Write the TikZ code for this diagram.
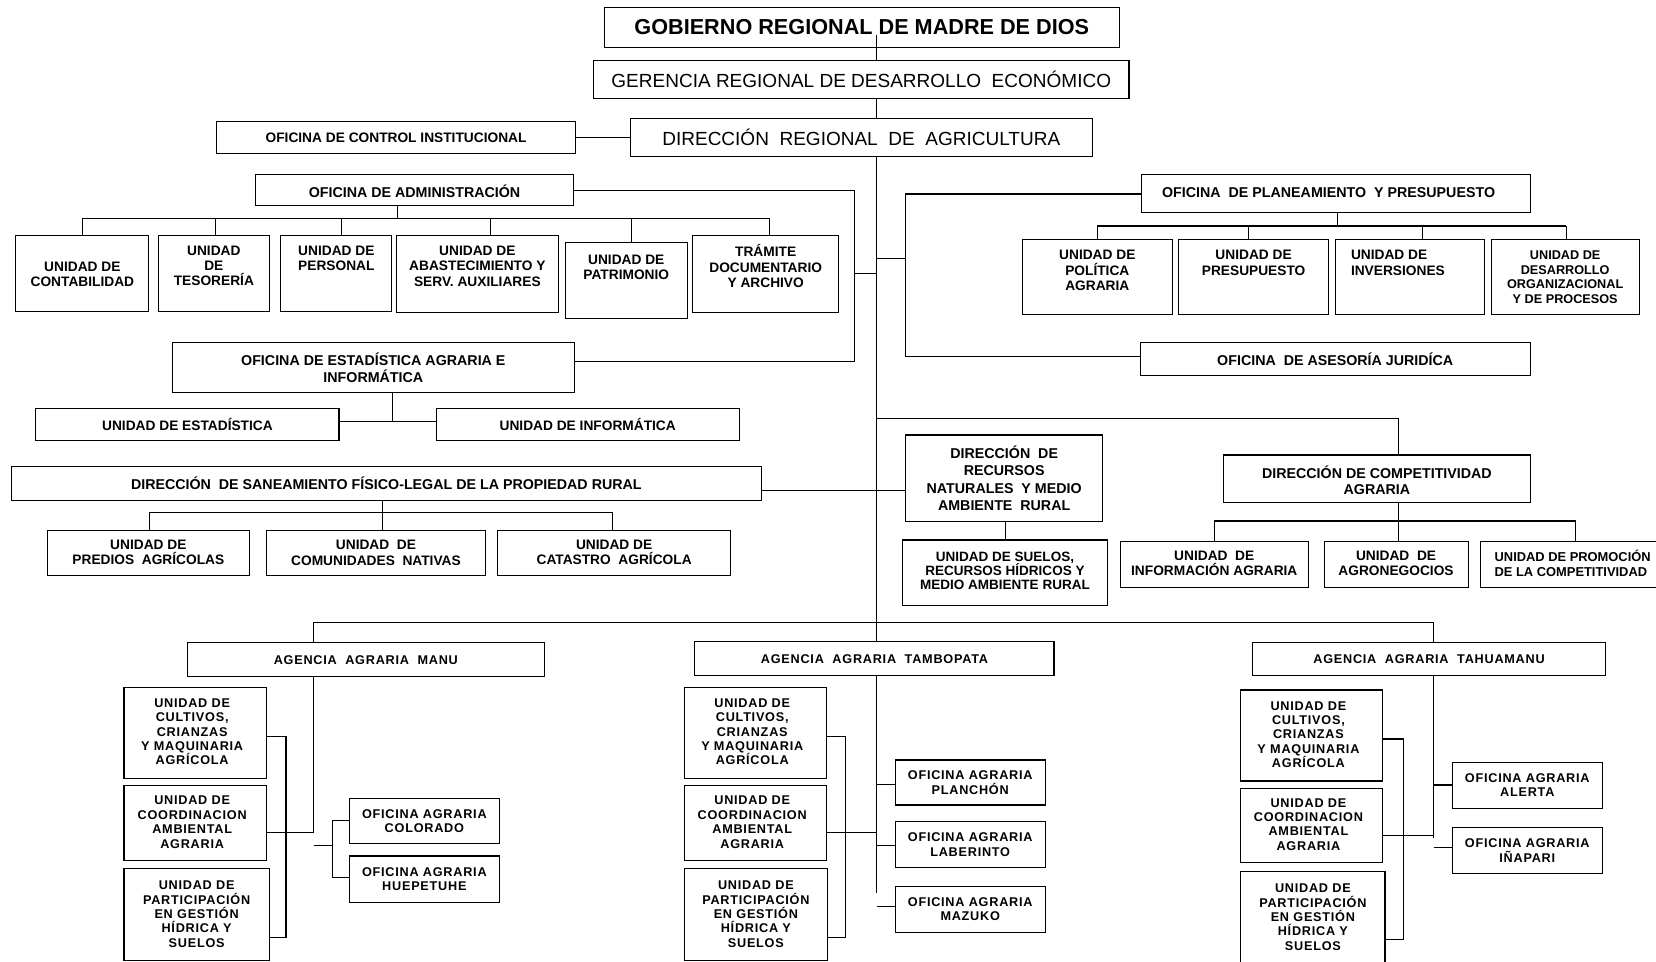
\documentclass[tikz,border=0pt]{standalone}
\usepackage{fontspec}
\setmainfont{Liberation Sans}
\newfontfamily\lsfont[LetterSpace=6]{Liberation Sans}
\usetikzlibrary{fit}
\tikzset{
  box/.style={draw, line width=1pt, inner sep=0pt},
  ln/.style={line width=1pt},
  tx/.style={inner sep=0pt, align=center, font=\bfseries\fontsize{13}{14.5}\selectfont},
  tbig/.style={font=\bfseries\fontsize{20.5}{24}\selectfont},
  tmed/.style={font=\fontsize{18}{21}\selectfont},
  toff/.style={font=\bfseries\fontsize{13.5}{15.5}\selectfont},
  trec/.style={font=\bfseries\fontsize{13.5}{16.4}\selectfont},
  tsue/.style={font=\bfseries\fontsize{12.8}{13.4}\selectfont},
  tdes/.style={font=\bfseries\fontsize{12}{14}\selectfont},
  tpro/.style={anchor=west, align=left, font=\bfseries\fontsize{12.2}{14}\selectfont},
  tag/.style={font=\lsfont\bfseries\fontsize{12}{13.6}\selectfont},
  tleft/.style={anchor=west, align=left},
}
\newcommand\bx[9][]{%
  \node[box, fit={(#3,#4) (#5,#6)}] (#2) {};
  \node[tx, #1] (#2t) at ([shift={(#7,#8)}]#2.center) {#9};}
\begin{document}
\begin{tikzpicture}[x=1pt,y=-1pt]
\useasboundingbox (0,0) rectangle (1568,910);
\fill[white] (0,0) rectangle (1568,910);
\clip (0,0) rectangle (1568,910);

% ---------- top ----------
\bx[tbig]{gob}{572}{7}{1060}{45}{0}{0}{GOBIERNO REGIONAL DE MADRE DE DIOS}
\bx[tmed]{ger}{562}{57}{1069}{93}{0}{0}{GERENCIA REGIONAL DE DESARROLLO~ ECONÓMICO}
\bx[tmed]{dir}{597}{112}{1034}{148}{0}{0}{DIRECCIÓN~ REGIONAL~ DE~ AGRICULTURA}
\bx{oci}{205}{115}{545}{145}{0}{0}{OFICINA DE CONTROL INSTITUCIONAL}

% ---------- left ----------
\bx[toff]{adm}{242}{165}{543}{195}{0}{1}{OFICINA DE ADMINISTRACIÓN}
\bx{cont}{15}{223}{141}{294.5}{0}{1}{UNIDAD DE\\CONTABILIDAD}
\bx{teso}{150}{223}{255}{294.5}{0}{-7}{UNIDAD\\DE\\TESORERÍA}
\bx{pers}{266}{223}{371}{294.5}{0}{-14}{UNIDAD DE\\PERSONAL}
\bx{abas}{375}{223}{529}{296}{0}{-7.5}{UNIDAD DE\\ABASTECIMIENTO Y\\SERV. AUXILIARES}
\bx{patr}{535}{229.5}{651}{302}{0}{-12.7}{UNIDAD DE\\PATRIMONIO}
\bx{tram}{656}{223}{794}{296}{0}{-7.5}{TRÁMITE\\DOCUMENTARIO\\Y ARCHIVO}
\bx[toff]{est}{163}{324.5}{544}{372}{0}{0}{OFICINA DE ESTADÍSTICA AGRARIA E\\INFORMÁTICA}
\bx{uest}{34}{387}{321}{417}{0}{0}{UNIDAD DE ESTADÍSTICA}
\bx{uinf}{413}{387}{700}{417}{0}{0}{UNIDAD DE INFORMÁTICA}
\bx[toff]{san}{10.6}{442}{721}{473.5}{0}{0}{DIRECCIÓN~ DE SANEAMIENTO FÍSICO-LEGAL DE LA PROPIEDAD RURAL}
\bx{pred}{45}{502}{236}{544.5}{0}{0}{UNIDAD DE\\PREDIOS~ AGRÍCOLAS}
\bx{comu}{252}{502}{460}{545}{0}{0}{UNIDAD~ DE\\COMUNIDADES~ NATIVAS}
\bx{cata}{471}{502}{692}{544.5}{0}{0}{UNIDAD DE\\CATASTRO~ AGRÍCOLA}

% ---------- right ----------
\bx[toff]{plan}{1081}{164.8}{1449}{200.8}{-7}{0}{OFICINA~ DE PLANEAMIENTO~ Y PRESUPUESTO}
\bx{poli}{968}{227}{1110}{298}{0}{-6.5}{UNIDAD DE\\POLÍTICA\\AGRARIA}
\bx{pres}{1116}{227}{1258}{298}{0}{-13.5}{UNIDAD DE\\PRESUPUESTO}
\bx[tleft]{inve}{1264.6}{227}{1405.6}{298}{-56.1}{-13.5}{UNIDAD DE\\INVERSIONES}
\bx[tdes]{desa}{1412}{227}{1552}{298}{0}{0}{UNIDAD DE\\DESARROLLO\\ORGANIZACIONAL\\Y DE PROCESOS}
\bx[toff]{ases}{1079.6}{324.5}{1449}{355.7}{0}{0}{OFICINA~ DE ASESORÍA JURIDÍCA}
\bx[trec]{recu}{857.6}{411.9}{1044}{494}{0}{0}{DIRECCIÓN~ DE\\RECURSOS\\NATURALES~ Y MEDIO\\AMBIENTE~ RURAL}
\bx[tsue]{suel}{854.7}{511.3}{1048.4}{572.9}{0}{-1.7}{UNIDAD DE SUELOS,\\RECURSOS HÍDRICOS Y\\MEDIO AMBIENTE RURAL}
\bx[toff]{comp}{1158.5}{430.8}{1449}{476}{0}{1.6}{DIRECCIÓN DE COMPETITIVIDAD\\AGRARIA}
\bx{info}{1060.5}{512.3}{1239}{556.5}{0}{-1}{UNIDAD~ DE\\INFORMACIÓN AGRARIA}
\bx{agro}{1253.7}{512.3}{1390}{556.5}{0}{-1}{UNIDAD~ DE\\AGRONEGOCIOS}
\bx[tpro]{prom}{1402}{512.3}{1610}{556.5}{-91}{-1}{UNIDAD DE PROMOCIÓN\\DE LA COMPETITIVIDAD}

% ---------- agencies ----------
\bx[tag]{manu}{177.4}{608.5}{515.4}{640.7}{0}{0}{AGENCIA~ AGRARIA~ MANU}
\bx[tag]{mcul}{117.4}{650.8}{252.5}{737}{-3}{-1}{UNIDAD DE\\CULTIVOS,\\CRIANZAS\\Y MAQUINARIA\\AGRÍCOLA}
\bx[tag]{mcoo}{117.4}{744}{252.5}{815}{-3}{-1}{UNIDAD DE\\COORDINACION\\AMBIENTAL\\AGRARIA}
\bx[tag]{mpar}{117.4}{822}{255}{909}{0}{0}{UNIDAD DE\\PARTICIPACIÓN\\EN GESTIÓN\\HÍDRICA Y\\SUELOS}
\bx[tag]{mcol}{330.8}{756}{472.8}{799}{0}{0}{OFICINA AGRARIA\\COLORADO}
\bx[tag]{mhue}{330.8}{810.5}{472.8}{854.7}{0}{0}{OFICINA AGRARIA\\HUEPETUHE}

\bx[tag]{tamb}{658}{607.6}{998}{639.8}{0}{0}{AGENCIA~ AGRARIA~ TAMBOPATA}
\bx[tag]{tcul}{647.7}{650.8}{782.8}{737}{-3}{-1}{UNIDAD DE\\CULTIVOS,\\CRIANZAS\\Y MAQUINARIA\\AGRÍCOLA}
\bx[tag]{tcoo}{647.7}{744}{782.8}{815}{-3}{-1}{UNIDAD DE\\COORDINACION\\AMBIENTAL\\AGRARIA}
\bx[tag]{tpar}{647.7}{822}{783.7}{909}{0}{0}{UNIDAD DE\\PARTICIPACIÓN\\EN GESTIÓN\\HÍDRICA Y\\SUELOS}
\bx[tag]{tpla}{847.8}{719.6}{989.5}{762.2}{0}{0}{OFICINA AGRARIA\\PLANCHÓN}
\bx[tag]{tlab}{847.8}{778}{989.5}{821.3}{0}{0}{OFICINA AGRARIA\\LABERINTO}
\bx[tag]{tmaz}{847.8}{839}{989.5}{883}{0}{0}{OFICINA AGRARIA\\MAZUKO}

\bx[tag]{tahu}{1185.8}{608.5}{1520.4}{639.8}{0}{0}{AGENCIA~ AGRARIA~ TAHUAMANU}
\bx[tag]{hcul}{1174.8}{653.3}{1309}{739.5}{-3}{-1}{UNIDAD DE\\CULTIVOS,\\CRIANZAS\\Y MAQUINARIA\\AGRÍCOLA}
\bx[tag]{hcoo}{1174.8}{746.5}{1309}{816.8}{-3}{-1}{UNIDAD DE\\COORDINACION\\AMBIENTAL\\AGRARIA}
\bx[tag]{hpar}{1174.8}{825.4}{1311.4}{915}{0}{-1.7}{UNIDAD DE\\PARTICIPACIÓN\\EN GESTIÓN\\HÍDRICA Y\\SUELOS}
\bx[tag]{hale}{1375}{721.8}{1517.2}{765.4}{0}{0}{OFICINA AGRARIA\\ALERTA}
\bx[tag]{hina}{1375}{783.4}{1517.2}{827}{0}{0}{OFICINA AGRARIA\\IÑAPARI}

% ---------- connector coordinates ----------
\coordinate (sp) at (830,0);
\coordinate (g0) at (830,33);
\coordinate (lbt) at (809,180.5);
\coordinate (lbb) at (809,342);
\coordinate (lbm) at (809,259);
\coordinate (rbt) at (857.6,183.7);
\coordinate (rbb) at (857.6,337.7);
\coordinate (rbm) at (857.6,244.6);
\coordinate (sr) at (780,464);
\coordinate (rs) at (952,0);
\coordinate (cc) at (1323.8,396.7);
\coordinate (cb) at (1323.8,493.3);
\coordinate (cbr) at (1492,493.3);
\coordinate (a0) at (376,207);
\coordinate (a1) at (78,207);
\coordinate (a2) at (204,207);
\coordinate (a3) at (323,207);
\coordinate (a4) at (464,207);
\coordinate (a5) at (598,207);
\coordinate (a6) at (729,207);
\coordinate (e0) at (372,399.5);
\coordinate (s0) at (362,485.4);
\coordinate (s1) at (141.5,485.4);
\coordinate (s2) at (580,485.4);
\coordinate (p0) at (1266,214);
\coordinate (p1) at (1039,214);
\coordinate (p2) at (1182,214);
\coordinate (p3) at (1347,214);
\coordinate (p4) at (1483,214);
\coordinate (bb1) at (297,589.3);
\coordinate (bb2) at (1357.5,589.3);
\coordinate (m0) at (297,789);
\coordinate (mb1) at (270.8,697.5);
\coordinate (mb2) at (270.8,887.5);
\coordinate (mm) at (297,788);
\coordinate (ms) at (297,801);
\coordinate (msx) at (314.7,801);
\coordinate (mo1) at (314.7,776.5);
\coordinate (mo2) at (314.7,830.7);
\coordinate (t0) at (830,846);
\coordinate (tb1) at (801,697.5);
\coordinate (tb2) at (801,887.5);
\coordinate (tm) at (830,788);
\coordinate (th1) at (830,742.4);
\coordinate (th2) at (830,801);
\coordinate (th3) at (830,857.9);
\coordinate (h0) at (1357.5,793.8);
\coordinate (hb1) at (1328.8,699.7);
\coordinate (hb2) at (1328.8,890);
\coordinate (hm) at (1357.5,791.3);
\coordinate (hh1) at (1357.5,743.3);
\coordinate (hh2) at (1357.5,802.3);

\begin{scope}[ln]
% spine
\draw (g0) -- (ger.north -| sp);
\draw (ger.south -| sp) -- (dir.north -| sp);
\draw (dir.south -| sp) -- (tamb.north -| sp);
\draw (oci.east) -- (dir.west);
% left bracket
\draw (adm.east |- lbt) -- (lbt) -- (lbb) -- (est.east |- lbb);
\draw (lbm) -- (lbm -| sp);
% right bracket
\draw (plan.west |- rbt) -- (rbt) -- (rbb) -- (ases.west |- rbb);
\draw (rbm -| sp) -- (rbm);
% saneamiento - recursos
\draw (san.east |- sr) -- (recu.west |- sr);
\draw (recu.south -| rs) -- (suel.north -| rs);
% competitividad
\draw (cc -| sp) -- (cc) -- (comp.north -| cc);
\draw (comp.south -| cc) -- (agro.north -| cc);
\draw (info.north) -- (info.north |- cb) -- (cbr) -- (cbr |- prom.north);
% administracion
\draw (adm.south -| a0) -- (a0);
\draw (a1) -- (a6);
\foreach \c/\b in {a1/cont,a2/teso,a3/pers,a4/abas,a5/patr,a6/tram}
  \draw (\c) -- (\c |- \b.north);
% estadistica
\draw (est.south -| e0) -- (e0);
\draw (uest.east |- e0) -- (uinf.west |- e0);
% saneamiento
\draw (san.south -| s0) -- (comu.north -| s0);
\draw (s1 |- pred.north) -- (s1) -- (s2) -- (s2 |- cata.north);
% planeamiento
\draw (plan.south -| p0) -- (p0);
\draw (p1) -- (p4);
\foreach \c/\b in {p1/poli,p2/pres,p3/inve,p4/desa}
  \draw (\c) -- (\c |- \b.north);
% agencies bus
\draw (manu.north -| bb1) -- (bb1) -- (bb2) -- (tahu.north -| bb2);
% manu
\draw (manu.south -| m0) -- (m0);
\draw (mcul.east |- mb1) -- (mb1) -- (mb2) -- (mpar.east |- mb2);
\draw (mcoo.east |- mm) -- (mm);
\draw (ms) -- (msx);
\draw (mcol.west |- mo1) -- (mo1) -- (mo2) -- (mhue.west |- mo2);
% tambopata
\draw (tamb.south -| t0) -- (t0);
\draw (tcul.east |- tb1) -- (tb1) -- (tb2) -- (tpar.east |- tb2);
\draw (tcoo.east |- tm) -- (tm);
\draw (th1) -- (tpla.west |- th1);
\draw (th2) -- (tlab.west |- th2);
\draw (th3) -- (tmaz.west |- th3);
% tahuamanu
\draw (tahu.south -| h0) -- (h0);
\draw (hcul.east |- hb1) -- (hb1) -- (hb2) -- (hpar.east |- hb2);
\draw (hcoo.east |- hm) -- (hm);
\draw (hh1) -- (hale.west |- hh1);
\draw (hh2) -- (hina.west |- hh2);
\end{scope}
\end{tikzpicture}
\end{document}
